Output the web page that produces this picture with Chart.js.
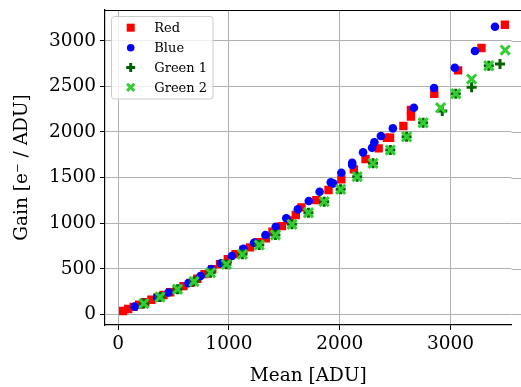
<!DOCTYPE html>
<html>
<head>
<meta charset="utf-8">
<script src="https://cdn.jsdelivr.net/npm/chart.js@4"></script>
<style>
  html, body { margin: 0; padding: 0; background: #fff; overflow: hidden; }
  canvas { display: block; }
</style>
</head>
<body>
<canvas id="chart" width="521" height="387"></canvas>
<script>
const redMean = [45, 90, 140, 190, 245, 300, 355, 410, 470, 530, 590, 650, 715, 780, 850, 920, 990, 1060, 1130, 1191, 1260, 1334, 1393, 1479, 1545, 1604, 1655, 1789, 1899, 2015, 2128, 2233, 2352, 2426, 2455, 2575, 2643, 2643, 2854, 3069, 3280, 3491];
const redGain = [36, 58, 82, 106, 132, 160, 186, 212, 242, 275, 310, 345, 390, 440, 495, 550, 605, 660, 705, 735, 790, 833, 906, 968, 1030, 1089, 1173, 1253, 1363, 1480, 1590, 1703, 1820, 1936, 1936, 2065, 2167, 2240, 2419, 2675, 2920, 3175];

const blueMean = [149, 352, 455, 634, 744, 839, 929, 1027, 1131, 1227, 1330, 1423, 1518, 1622, 1721, 1819, 1920, 1941, 2015, 2113, 2113, 2211, 2292, 2313, 2372, 2480, 2670, 2852, 3039, 3221, 3402];
const blueGain = [84, 186, 240, 340, 420, 497, 559, 639, 719, 785, 870, 961, 1053, 1151, 1242, 1344, 1447, 1436, 1553, 1662, 1637, 1776, 1827, 1886, 1955, 2039, 2265, 2481, 2704, 2887, 3153];

const green1Mean = [232, 378, 536, 685, 834, 977, 1122, 1274, 1420, 1569, 1718, 1860, 2009, 2158, 2301, 2457, 2604, 2753, 2926, 3048, 3191, 3346, 3447];
const green1Gain = [118, 190, 275, 360, 456, 548, 658, 760, 870, 987, 1114, 1235, 1371, 1509, 1656, 1801, 1947, 2101, 2229, 2419, 2489, 2726, 2745];

const green2Mean = [232, 378, 536, 685, 834, 977, 1122, 1274, 1420, 1569, 1718, 1860, 2009, 2158, 2301, 2457, 2604, 2753, 2911, 3048, 3191, 3346, 3494];
const green2Gain = [118, 190, 275, 360, 456, 548, 658, 760, 870, 987, 1114, 1235, 1371, 1509, 1656, 1801, 1947, 2101, 2265, 2419, 2580, 2726, 2898];

const xTicks = [0, 1000, 2000, 3000];
const yTicks = [0, 500, 1000, 1500, 2000, 2500, 3000];

const toPoints = (xs, ys) => xs.map((x, i) => ({ x: x, y: ys[i] }));
const FONT = "'DejaVu Serif', 'Liberation Serif', serif";

const legendItems = [
    { label: "Red", style: "rect", color: "#ff0000" },
    { label: "Blue", style: "circle", color: "#0000ff" },
    { label: "Green 1", style: "cross", color: "#006400" },
    { label: "Green 2", style: "crossRot", color: "#32cd32" },
];

const drawMarker = (c, style, color, x, y) => {
    c.save();
    c.fillStyle = color;
    c.strokeStyle = color;
    c.lineWidth = 3;
    c.beginPath();
    if (style === "rect") {
        c.fillRect(x - 4, y - 4, 8, 8);
    } else if (style === "circle") {
        c.arc(x, y, 3.8, 0, Math.PI * 2);
        c.fill();
    } else if (style === "cross") {
        c.moveTo(x - 4.5, y); c.lineTo(x + 4.5, y);
        c.moveTo(x, y - 4.5); c.lineTo(x, y + 4.5);
        c.stroke();
    } else {
        c.moveTo(x - 3.6, y - 3.6); c.lineTo(x + 3.6, y + 3.6);
        c.moveTo(x + 3.6, y - 3.6); c.lineTo(x - 3.6, y + 3.6);
        c.stroke();
    }
    c.restore();
};

const framePlugin = {
    id: "frame",
    beforeDatasetsDraw(chart) {
        // the reference plot runs past the right edge: carry grid lines to it
        const c = chart.ctx;
        const a = chart.chartArea;
        const y = chart.scales.y;
        c.save();
        c.strokeStyle = "#b0b0b0";
        c.lineWidth = 1;
        yTicks.forEach((v) => {
            const py = Math.round(y.getPixelForValue(v)) + 0.5;
            c.beginPath();
            c.moveTo(a.right, py);
            c.lineTo(chart.width, py);
            c.stroke();
        });
        c.restore();
    },
    afterDraw(chart) {
        const c = chart.ctx;
        const a = chart.chartArea;
        c.save();
        c.strokeStyle = "#000";
        c.lineWidth = 1.2;
        c.beginPath();
        c.moveTo(a.left, a.top + 0.5);
        c.lineTo(chart.width, a.top + 0.5);
        c.stroke();

        // legend box
        const bx = 111.5, by = 16.5, bw = 101.5, bh = 82.5;
        c.beginPath();
        c.roundRect(bx, by, bw, bh, 3);
        c.fillStyle = "rgba(255,255,255,0.8)";
        c.fill();
        c.strokeStyle = "#cccccc";
        c.lineWidth = 1;
        c.stroke();

        c.font = "13px " + FONT;
        c.textBaseline = "middle";
        c.fillStyle = "#000";
        const rows = [27.7, 47.7, 67.5, 87.3];
        legendItems.forEach((it, i) => {
            drawMarker(c, it.style, it.color, 130.7, rows[i]);
            c.fillText(it.label, 154.3, rows[i] + 1);
        });
        c.restore();
    },
};

new Chart(document.getElementById("chart"), {
    type: "scatter",
    data: {
        datasets: [
            {
                label: "Red",
                data: toPoints(redMean, redGain),
                pointStyle: "rect",
                pointRadius: 5.9,
                pointBorderWidth: 0,
                backgroundColor: "#ff0000",
                borderColor: "#ff0000",
                order: 4,
            },
            {
                label: "Blue",
                data: toPoints(blueMean, blueGain),
                pointStyle: "circle",
                pointRadius: 4.3,
                pointBorderWidth: 0,
                backgroundColor: "#0000ff",
                borderColor: "#0000ff",
                order: 3,
            },
            {
                label: "Green 1",
                data: toPoints(green1Mean, green1Gain),
                pointStyle: "cross",
                pointRadius: 5,
                pointBorderWidth: 3,
                backgroundColor: "#006400",
                borderColor: "#006400",
                order: 2,
            },
            {
                label: "Green 2",
                data: toPoints(green2Mean, green2Gain),
                pointStyle: "crossRot",
                pointRadius: 6.5,
                pointBorderWidth: 3,
                backgroundColor: "#32cd32",
                borderColor: "#32cd32",
                order: 1,
            },
        ],
    },
    options: {
        responsive: false,
        animation: false,
        layout: { padding: { top: 10, right: 0, left: 0, bottom: 0 } },
        plugins: {
            legend: { display: false },
            tooltip: { enabled: false },
        },
        scales: {
            x: {
                type: "linear",
                min: -118.5,
                max: 3551,
                afterBuildTicks: (s) => { s.ticks = xTicks.map((v) => ({ value: v })); },
                afterFit: (s) => { s.height = 62; s.paddingLeft = 0; s.paddingRight = 0; },
                ticks: {
                    color: "#000",
                    font: { family: FONT, size: 18.5 },
                    padding: 3,
                    maxRotation: 0,
                    callback: (v) => String(v),
                },
                grid: { color: "#b0b0b0", lineWidth: 1, tickColor: "#000", tickLength: 5 },
                border: { color: "#000", width: 1.2 },
                title: {
                    display: true,
                    text: "Mean [ADU]",
                    color: "#000",
                    font: { family: FONT, size: 18.5 },
                    padding: { top: 0, bottom: 0 },
                },
            },
            y: {
                type: "linear",
                min: -117,
                max: 3337,
                afterBuildTicks: (s) => { s.ticks = yTicks.map((v) => ({ value: v })); },
                afterFit: (s) => { s.width = 105; s.paddingTop = 0; s.paddingBottom = 0; },
                ticks: {
                    color: "#000",
                    font: { family: FONT, size: 18.5 },
                    padding: 4,
                    callback: (v) => String(v),
                },
                grid: { color: "#b0b0b0", lineWidth: 1, tickColor: "#000", tickLength: 5 },
                border: { color: "#000", width: 1.2 },
                title: {
                    display: true,
                    text: "Gain [e\u207B / ADU]",
                    color: "#000",
                    font: { family: FONT, size: 18.5 },
                    padding: { top: 11, bottom: 0 },
                },
            },
        },
    },
    plugins: [framePlugin],
});
</script>
</body>
</html>
